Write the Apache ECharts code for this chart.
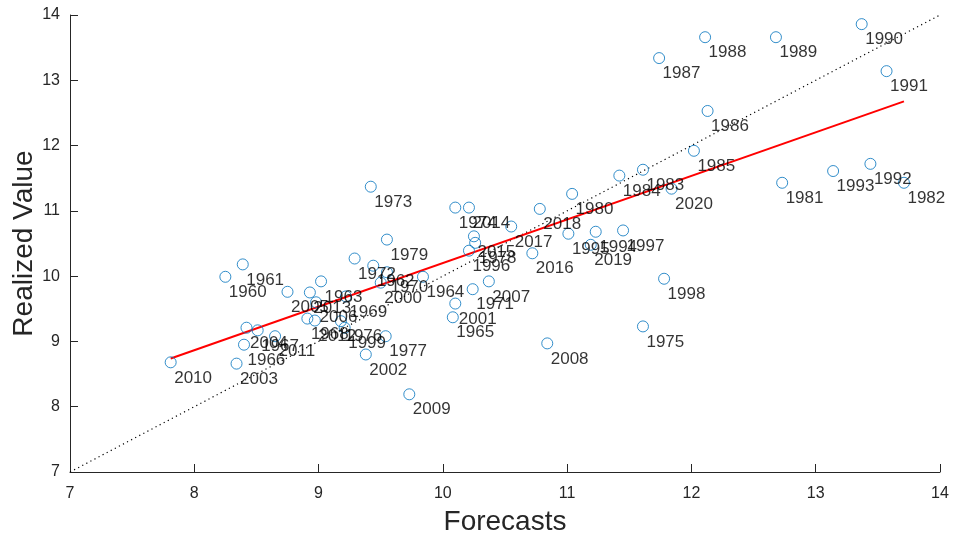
<!DOCTYPE html>
<html>
<head>
<meta charset="utf-8">
<title>Forecasts vs Realized Value</title>
<script src="https://cdn.jsdelivr.net/npm/echarts@6/dist/echarts.min.js"></script>
<style>
  html, body { margin: 0; padding: 0; background: #ffffff; }
  #chart { width: 956px; height: 542px; }
</style>
</head>
<body>
<div id="chart"></div>
<script>
// Yearly observations, 1960-2020
const years = [
  1960, 1961, 1962, 1963, 1964, 1965, 1966, 1967, 1968, 1969,
  1970, 1971, 1972, 1973, 1974, 1975, 1976, 1977, 1978, 1979,
  1980, 1981, 1982, 1983, 1984, 1985, 1986, 1987, 1988, 1989,
  1990, 1991, 1992, 1993, 1994, 1995, 1996, 1997, 1998, 1999,
  2000, 2001, 2002, 2003, 2004, 2005, 2006, 2007, 2008, 2009,
  2010, 2011, 2012, 2013, 2014, 2015, 2016, 2017, 2018, 2019,
  2020
];

const forecasts = [
  8.25, 8.39, 9.44, 9.02, 9.84, 10.08, 8.40, 8.51, 8.91, 9.22,
  9.55, 10.24, 9.29, 9.42, 10.10, 11.61, 9.18, 9.54, 10.26, 9.55,
  11.04, 12.73, 13.71, 11.61, 11.42, 12.02, 12.13, 11.74, 12.11, 12.68,
  13.37, 13.57, 13.44, 13.14, 11.23, 11.01, 10.21, 11.45, 11.78, 9.21,
  9.50, 10.10, 9.38, 8.34, 8.42, 8.75, 8.98, 10.37, 10.84, 9.73,
  7.81, 8.65, 8.97, 8.93, 10.21, 10.25, 10.72, 10.55, 10.78, 11.19,
  11.84
];

const realized = [
  9.99, 10.18, 10.16, 9.92, 9.99, 9.37, 8.95, 9.17, 9.35, 9.69,
  10.06, 9.80, 10.27, 11.37, 11.05, 9.23, 9.31, 9.08, 10.51, 10.56,
  11.26, 11.43, 11.43, 11.63, 11.54, 11.92, 12.53, 13.34, 13.66, 13.66,
  13.86, 13.14, 11.72, 11.61, 10.68, 10.65, 10.39, 10.70, 9.96, 9.21,
  9.90, 9.58, 8.80, 8.66, 9.21, 9.76, 9.60, 9.92, 8.97, 8.19,
  8.68, 9.08, 9.32, 9.75, 11.05, 10.61, 10.35, 10.76, 11.03, 10.48,
  11.34
];

// Shared axis range for both axes
const axisTicks = [7, 8, 9, 10, 11, 12, 13, 14];

// Least-squares fit of realized value on forecasts
function leastSquares(xs, ys) {
  const n = xs.length;
  let sx = 0, sy = 0, sxx = 0, sxy = 0;
  for (let i = 0; i < n; i++) {
    sx += xs[i]; sy += ys[i];
    sxx += xs[i] * xs[i]; sxy += xs[i] * ys[i];
  }
  const slope = (n * sxy - sx * sy) / (n * sxx - sx * sx);
  const intercept = (sy - slope * sx) / n;
  return { slope, intercept };
}

const fit = leastSquares(forecasts, realized);
const xMin = Math.min(...forecasts);
const xMax = Math.max(...forecasts);
const fitLine = [
  [xMin, fit.intercept + fit.slope * xMin],
  [xMax, fit.intercept + fit.slope * xMax]
];

const lo = axisTicks[0];
const hi = axisTicks[axisTicks.length - 1];
const diagonal = [[lo, lo], [hi, hi]];

const points = years.map((yr, i) => ({
  name: String(yr),
  value: [forecasts[i], realized[i]]
}));

const axisColor = '#262626';
const font = 'Liberation Sans, Arial, Helvetica, sans-serif';

function axisBase(name, gap, rotate) {
  return {
    type: 'value',
    min: lo,
    max: hi,
    interval: 1,
    name: name,
    nameLocation: 'middle',
    nameGap: gap,
    nameRotate: rotate,
    nameMoveOverlap: false,
    nameTextStyle: { fontSize: 28, color: axisColor, fontFamily: font },
    axisLine: { show: true, onZero: false, lineStyle: { color: axisColor, width: 1 } },
    axisTick: { show: true, inside: true, length: 8, lineStyle: { color: axisColor } },
    axisLabel: { fontSize: 16, color: axisColor, fontFamily: font },
    splitLine: { show: false }
  };
}

const chart = echarts.init(document.getElementById('chart'), null, { renderer: 'canvas' });

const xAxis = axisBase('Forecasts', 36, 0);
xAxis.axisLabel.margin = 14;
const yAxis = axisBase('Realized Value', 32, 90);
yAxis.axisLabel.margin = 10;

chart.setOption({
  animation: false,
  backgroundColor: '#ffffff',
  grid: {
    left: 70, right: 16, top: 15, bottom: 70,
    containLabel: false,
    outerBoundsMode: 'none'
  },
  xAxis: xAxis,
  yAxis: yAxis,
  series: [
    {
      type: 'line',
      data: diagonal,
      symbol: 'none',
      silent: true,
      lineStyle: { color: '#000000', width: 1.2, type: [1.2, 3.4] },
      z: 1
    },
    {
      type: 'line',
      data: fitLine,
      symbol: 'none',
      silent: true,
      lineStyle: { color: '#ff0000', width: 2 },
      z: 2
    },
    {
      type: 'scatter',
      data: points,
      symbol: 'circle',
      symbolSize: 11,
      itemStyle: { color: 'rgba(0,0,0,0)', borderColor: '#0072BD', borderWidth: 1 },
      label: {
        show: true,
        formatter: p => p.name,
        position: [9.5, 21.5],
        align: 'left',
        verticalAlign: 'middle',
        fontSize: 17,
        color: '#000000',
        fontFamily: font
      },
      z: 3
    }
  ]
});
</script>
</body>
</html>
